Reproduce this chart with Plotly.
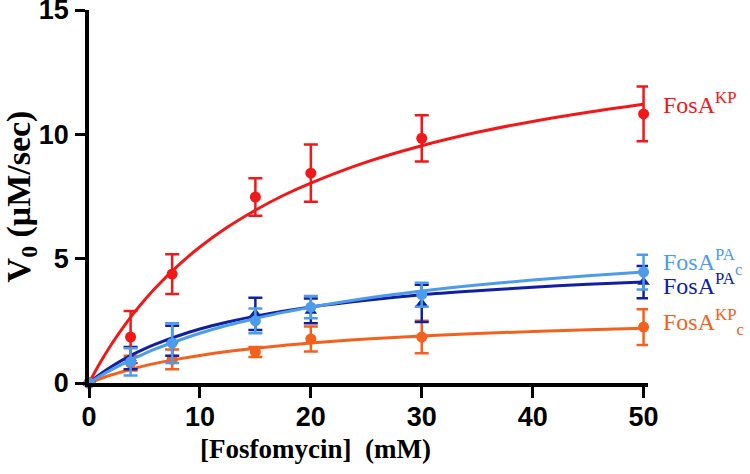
import plotly.graph_objects as go

# measured data
conc = [0, 3.75, 7.5, 15, 20, 30, 50]
kp = [0, 1.85, 4.38, 7.48, 8.44, 9.84, 10.82]
kp_err = [0, 1.05, 0.8, 0.75, 1.15, 0.93, 1.1]
pa_c = [0, 0.85, 1.6, 2.5, 3.05, 3.55, 4.46]
pa_c_err = [0, 0.55, 0.8, 0.5, 0.45, 0.48, 0.7]
pa = [0, 1.0, 1.7, 2.78, 2.9, 3.2, 4.06]
pa_err = [0, 0.45, 0.6, 0.65, 0.5, 0.75, 0.65]
kp_c = [0, 0.8, 0.95, 1.25, 1.77, 1.85, 2.25]
kp_c_err = [0, 0.3, 0.4, 0.2, 0.5, 0.65, 0.72]

# fitted curves
fit_x = [0, 1, 2, 3, 4, 5, 6, 8, 10, 12.5, 15, 17.5, 20, 25, 30, 35, 40, 45, 50]
fit_kp = [0, 0.81, 1.54, 2.19, 2.79, 3.33, 3.83, 4.71, 5.47, 6.27, 6.95, 7.54, 8.04, 8.88, 9.54, 10.08, 10.52, 10.89, 11.21]
fit_pa_c = [0, 0.28, 0.53, 0.76, 0.98, 1.18, 1.37, 1.70, 2.00, 2.32, 2.59, 2.84, 3.05, 3.41, 3.70, 3.94, 4.14, 4.31, 4.46]
fit_pa = [0, 0.35, 0.65, 0.92, 1.16, 1.37, 1.56, 1.89, 2.17, 2.45, 2.69, 2.89, 3.06, 3.33, 3.55, 3.71, 3.85, 3.97, 4.06]
fit_kp_c = [0, 0.17, 0.32, 0.45, 0.58, 0.69, 0.79, 0.96, 1.11, 1.27, 1.40, 1.51, 1.61, 1.77, 1.89, 1.99, 2.07, 2.14, 2.20]

labels = ["FosA<sup>KP</sup>", "FosA<sup>PA</sup><sub>c</sub>", "FosA<sup>PA</sup>", "FosA<sup>KP</sup><sub>c</sub>"]
label_y = [11.26, 4.86, 3.98, 2.45]

RED = "#F01818"
LBLUE = "#4D9CEB"
DBLUE = "#1020A0"
ORANGE = "#F4601E"

fig = go.Figure()

series = [
    (kp_c, kp_c_err, fit_kp_c, ORANGE, "circle"),
    (pa, pa_err, fit_pa, DBLUE, "triangle-up"),
    (kp, kp_err, fit_kp, RED, "circle"),
    (pa_c, pa_c_err, fit_pa_c, LBLUE, "circle"),
]
for vals, errs, fit, col, sym in series:
    fig.add_trace(go.Scatter(x=fit_x, y=fit, mode="lines", line=dict(color=col, width=3, shape="spline"),
                             cliponaxis=False, hoverinfo="skip", showlegend=False))
    fig.add_trace(go.Scatter(x=conc, y=vals, mode="markers",
                             marker=dict(color=col, size=11, symbol=sym),
                             error_y=dict(type="data", array=errs, color=col, thickness=2.5, width=7),
                             cliponaxis=False, showlegend=False))

cols = [RED, LBLUE, DBLUE, ORANGE]
for t, yv, c in zip(labels, label_y, cols):
    fig.add_annotation(x=51.6 / 50.4, xref="paper", y=yv, yref="y", text=t, showarrow=False,
                       xanchor="left", yanchor="middle",
                       font=dict(family="Liberation Serif", size=24, color=c))

# x axis title placed as in the reference (left of plot centre)
fig.add_annotation(x=(315 - 89) / 559, xref="paper", y=-(449 - 383) / 373, yref="paper",
                   text="[Fosfomycin]  (mM)", showarrow=False, xanchor="center", yanchor="middle",
                   font=dict(family="Liberation Serif", size=27, color="black", weight="bold"))

fig.update_layout(
    template="none",
    width=750, height=474,
    margin=dict(l=89, r=102, t=10, b=91),
    plot_bgcolor="white", paper_bgcolor="white",
    xaxis=dict(range=[0, 50.4], tickvals=[0, 10, 20, 30, 40, 50], showgrid=False, zeroline=False,
               automargin=False, ticklabelstandoff=-4,
               showline=True, linecolor="black", linewidth=3.5, ticks="outside", ticklen=11,
               tickwidth=3, tickcolor="black",
               tickfont=dict(family="Liberation Sans", size=27, color="black", weight="bold")),
    yaxis=dict(range=[0, 15], tickvals=[0, 5, 10, 15], showgrid=False, zeroline=False,
               automargin=False, ticklabeloverflow="allow",
               showline=True, linecolor="black", linewidth=3.5, ticks="outside", ticklen=10,
               tickwidth=3, tickcolor="black", ticklabelstandoff=1,
               tickfont=dict(family="Liberation Sans", size=27, color="black", weight="bold"),
               title=dict(text="V<sub>0</sub> (\u03bcM/sec)", standoff=12,
                          font=dict(family="Liberation Serif", size=34, color="black", weight="bold"))),
)

fig.write_html("out.html", config={"displayModeBar": False},
               post_script="document.body.style.margin='0';")
